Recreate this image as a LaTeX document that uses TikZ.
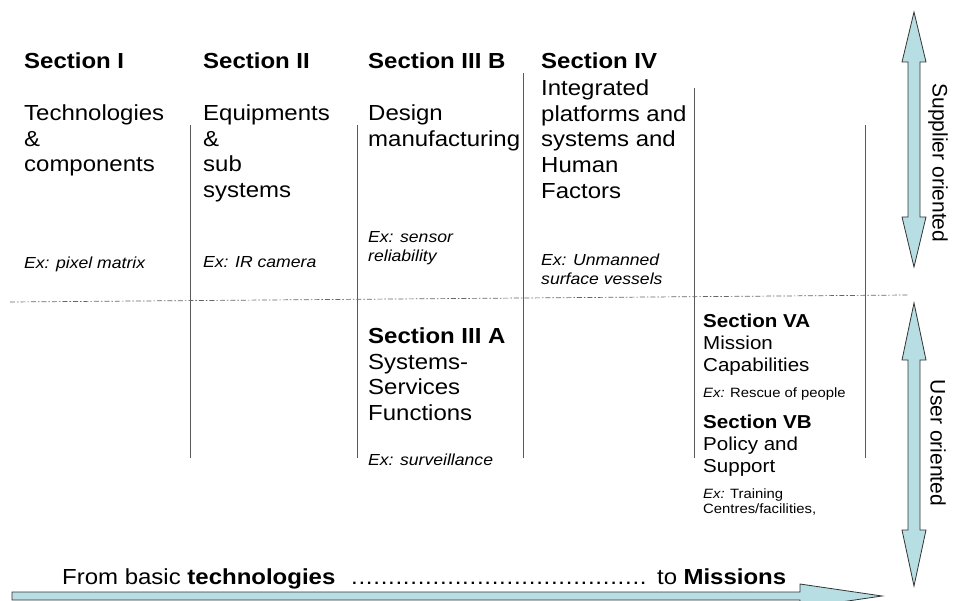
\documentclass[tikz,border=0pt]{standalone}
\usepackage{fontspec}
\setmainfont[FakeStretch=1.1]{Liberation Sans}
\newfontfamily\uprfont{Liberation Sans}
\definecolor{arrowblue}{RGB}{183,222,226}
\begin{document}
\begin{tikzpicture}[x=1pt,y=-1pt,line join=miter]
		\tikzset{txt/.style={anchor=north west,inner sep=0pt,align=left,font=\fontsize{21.8}{25.8}\selectfont},
			ex/.style={txt,font=\fontsize{16}{19}\selectfont\itshape},
			small/.style={txt,font=\fontsize{18.7}{22.3}\selectfont},
			smallex/.style={txt,font=\fontsize{13.5}{15}\selectfont},
			col line/.style={black!65,line width=1pt},
			fat arrow/.style={draw=black!80,fill=arrowblue,line width=0.8pt}}
		\useasboundingbox (0,0) rectangle (955,601);
		\clip (0,0) rectangle (955,601);
		% column separators and the split line
		\foreach \x/\a in {190/125,357/125,523/73,694/88,865/125}
		\draw[col line] (\x,\a)--(\x,458);
		\draw[black!60,line width=0.7pt,dash pattern=on 5pt off 2pt on 1.5pt off 2pt] (10,302)--(908,295);
		% supplier side
		\node[txt,font=\fontsize{21.8}{25.8}\selectfont\bfseries] (s1) at (24,52.3) {Section I};
		\node[txt,font=\fontsize{21.8}{25.8}\selectfont\bfseries] (s2) at (203,52.3) {Section II};
		\node[txt,font=\fontsize{21.8}{25.8}\selectfont\bfseries] (s3b) at (368,52.3) {Section III B};
		\node[txt,font=\fontsize{21.8}{25.8}\selectfont\bfseries] (s4) at (541,52.3) {Section IV};
		\node[txt] (s1t) at (24,104.3) {Technologies\\\&\\components};
		\node[txt] (s2t) at (203,104.3) {Equipments\\\&\\sub\\systems};
		\node[txt] (s3bt) at (368,104.3) {Design\\manufacturing};
		\node[txt] (s4t) at (541,79.3) {Integrated\\platforms and\\systems and\\Human\\Factors};
		\node[ex] (s1ex) at (24,256.5) {Ex: pixel matrix};
		\node[ex] (s2ex) at (203,256.5) {Ex: IR camera};
		\node[ex] (s3bex) at (368,231.5) {Ex: sensor\\reliability};
		\node[ex] (s4ex) at (541,253.5) {Ex: Unmanned\\surface vessels};
		% user side
		\node[txt] (s3a) at (368,327.3) {\textbf{Section III A}\\Systems-\\Services\\Functions};
		\node[ex] (s3aex) at (368,453.5) {Ex: surveillance};
		\node[small] (s5a) at (703,313.5) {\textbf{Section VA}\\Mission\\Capabilities};
		\node[smallex] (s5aex) at (703,387.3) {\textit{Ex:} Rescue of people};
		\node[small] (s5b) at (703,414.5) {\textbf{Section VB}\\Policy and\\Support};
		\node[smallex] (s5bex) at (703,488.3) {\textit{Ex:} Training\\Centres/facilities,};
		% orientation arrows
		\foreach \ta/\ha/\hb/\tb in {12/62/217/267,303/360/530/586}
		\draw[fat arrow] (908,\ha)--(902,\ha)--(914,\ta)--(926,\ha)--(920,\ha)--(920,\hb)--(926,\hb)--(914,\tb)--(902,\hb)--(908,\hb)--cycle;
		\node[rotate=-90,font=\uprfont\fontsize{21}{24}\selectfont] (supplier) at (938,163) {Supplier oriented};
		\node[rotate=-90,font=\uprfont\fontsize{21}{24}\selectfont] (user) at (938,443) {User oriented};
		% bottom arrow
		\draw[fat arrow] (12,592)--(800,592)--(800,584)--(882,596)--(800,608)--(800,600)--(12,600)--cycle;
		\node[anchor=base west,inner sep=0pt,font=\fontsize{21.8}{25.8}\selectfont] (range) at (62,584)
		{\hbox to 724pt{From basic \textbf{technologies}\hspace{14pt}\leaders\hbox to 7.4pt{\hss.\hss}\hfill\hspace{4pt}to \textbf{Missions}}};
		
		\end{tikzpicture}
\end{document}
